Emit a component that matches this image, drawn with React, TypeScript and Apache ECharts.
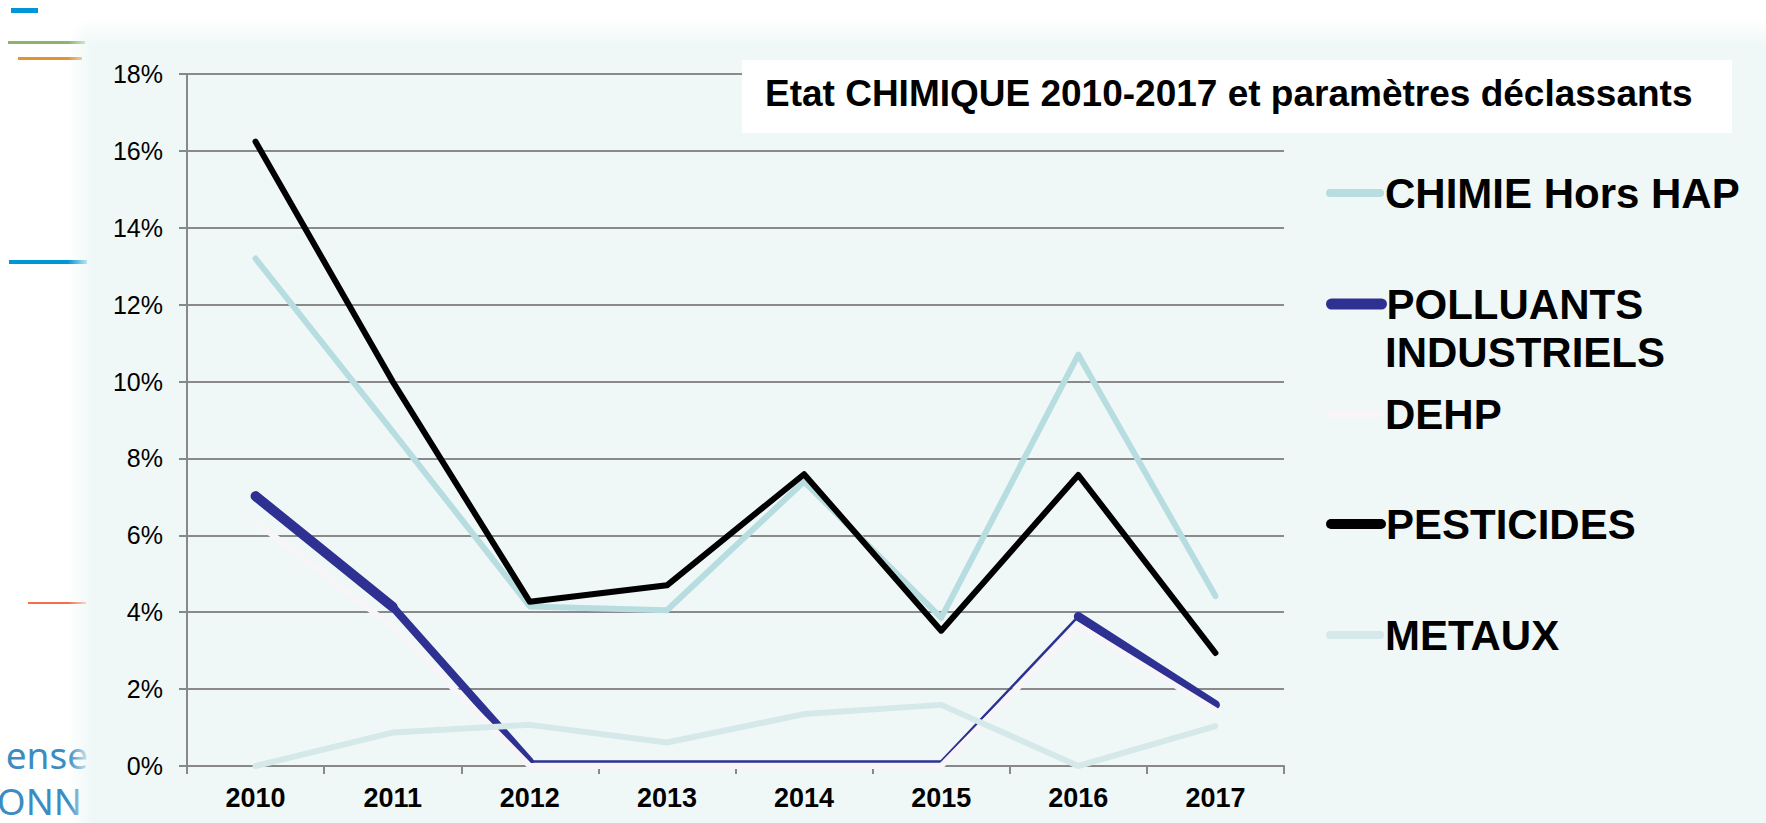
import React, { useEffect, useRef } from "react";
import * as echarts from "echarts";

// ---- data ----
const years = ["2010", "2011", "2012", "2013", "2014", "2015", "2016", "2017"];
const yTicks = [0, 2, 4, 6, 8, 10, 12, 14, 16, 18];
const chimieHorsHap = [13.2, 8.7, 4.15, 4.05, 7.4, 3.85, 10.7, 4.42];
const polluantsIndustriels = [7.02, 4.14, 0.12, 0.12, 0.12, 0.12, 3.89, 1.59];
const dehp = [6.35, 3.62, 0, 0, 0, 0, 3.65, 1.45];
const pesticides = [16.24, 10.0, 4.27, 4.7, 7.59, 3.52, 7.57, 2.94];
const metaux = [0, 0.87, 1.07, 0.61, 1.35, 1.59, 0, 1.04];
const seriesNames = ["CHIMIE Hors HAP", "POLLUANTS INDUSTRIELS", "DEHP", "PESTICIDES", "METAUX"];
const chartTitle = "Etat CHIMIQUE 2010-2017 et paramètres déclassants";

// ---- style ----
const FONT = "'Liberation Sans', Arial, sans-serif";
const MINT = "#eff8f7";
const COLORS = ["#b7dde0", "#2e3192", "#f8f5f8", "#000000", "#d5e9ea"];
// width of the polluants line per segment (segment i joins point i and i+1)
const polluantsSegmentWidths = [10, 8, 2.5, 2.5, 2.5, 2.5, 9];
const legendCenters = [193, 304, 414, 524, 635];
const legendIconWidths = [8, 11, 8, 10, 8];

function buildSegments(values: number[], widths: number[]) {
  const runs: { start: number; end: number; width: number }[] = [];
  widths.forEach((w, i) => {
    const last = runs[runs.length - 1];
    if (last && last.width === w) last.end = i + 1;
    else runs.push({ start: i, end: i + 1, width: w });
  });
  return runs.map((r) => ({
    width: r.width,
    data: values.map((v, i) => (i >= r.start && i <= r.end ? v : null)),
  }));
}

export default function App() {
  const ref = useRef<HTMLDivElement>(null);
  useEffect(() => {
    if (!ref.current) return;
    const chart = echarts.init(ref.current, undefined, { renderer: "svg" });

    const lineBase = (name: string, color: string, width: number, data: (number | null)[]) => ({
      type: "line",
      name,
      data,
      symbol: "none",
      showSymbol: false,
      connectNulls: false,
      lineStyle: { color, width, cap: "round", join: "round" },
      itemStyle: { color },
    });

    const polluantSeries = buildSegments(polluantsIndustriels, polluantsSegmentWidths).map((s) =>
      lineBase(seriesNames[1], COLORS[1], s.width, s.data)
    );

    const series: any[] = [
      lineBase(seriesNames[0], COLORS[0], 6, chimieHorsHap),
      ...polluantSeries,
      lineBase(seriesNames[2], COLORS[2], 6, dehp),
      lineBase(seriesNames[3], COLORS[3], 6, pesticides),
      lineBase(seriesNames[4], COLORS[4], 6, metaux),
    ];

    const legends = seriesNames.map((name, i) => ({
      data: [name],
      orient: "vertical",
      left: 1326,
      top: legendCenters[i] - 25,
      padding: 0,
      itemWidth: 50,
      itemHeight: 14,
      selectedMode: false,
      formatter: (n: string) => (n === "POLLUANTS INDUSTRIELS" ? "POLLUANTS" : n),
      itemStyle: { opacity: 0 },
      lineStyle: { width: legendIconWidths[i], cap: "round", color: COLORS[i] },
      textStyle: {
        fontFamily: FONT,
        fontSize: 42,
        fontWeight: "bold",
        color: "#000",
        lineHeight: 50,
      },
    }));

    const option: any = {
      animation: false,
      backgroundColor: "#ffffff",
      graphic: [
        // slide decorations (under the mint panel)
        { type: "rect", z: -20, shape: { x: 11, y: 8, width: 27, height: 5 }, style: { fill: "#0095d9" } },
        { type: "rect", z: -20, shape: { x: 8, y: 41, width: 77, height: 3 }, style: { fill: "#8fb26f" } },
        { type: "rect", z: -20, shape: { x: 18, y: 57, width: 64, height: 3 }, style: { fill: "#e3942f" } },
        { type: "rect", z: -20, shape: { x: 9, y: 260, width: 78, height: 4 }, style: { fill: "#0096d6" } },
        { type: "rect", z: -20, shape: { x: 28, y: 602, width: 58, height: 2 }, style: { fill: "#f36f47" } },
        {
          type: "text", z: -20, x: 88, y: 754,
          style: { text: "ense", fontFamily: "'Noto Sans', sans-serif", fontSize: 37, fill: "#3a8cc3", align: "right", verticalAlign: "middle" },
        },
        {
          type: "text", z: -20, x: 82, y: 800,
          style: { text: "DONN", fontFamily: "'Noto Sans', sans-serif", fontSize: 37, fill: "#3a8cc3", align: "right", verticalAlign: "middle" },
        },
        // mint panel
        { type: "rect", z: -10, shape: { x: 92, y: 45, width: 1674, height: 778 }, style: { fill: MINT } },
        {
          type: "rect", z: -10, shape: { x: 68, y: 45, width: 24, height: 778 },
          style: { fill: new echarts.graphic.LinearGradient(0, 0, 1, 0, [
            { offset: 0, color: "rgba(239,248,247,0)" }, { offset: 1, color: MINT }]) },
        },
        {
          type: "rect", z: -10, shape: { x: 92, y: 18, width: 1674, height: 27 },
          style: { fill: new echarts.graphic.LinearGradient(0, 0, 0, 1, [
            { offset: 0, color: "rgba(239,248,247,0)" }, { offset: 1, color: MINT }]) },
        },
        {
          type: "rect", z: -10, shape: { x: 68, y: 18, width: 24, height: 27 },
          style: { fill: new echarts.graphic.RadialGradient(1, 1, 1, [
            { offset: 0, color: MINT }, { offset: 1, color: "rgba(239,248,247,0)" }]) },
        },
        // title box
        { type: "rect", z: 10, shape: { x: 742, y: 60, width: 990, height: 73 }, style: { fill: "#ffffff" } },
        {
          type: "text", z: 11, x: 765, y: 93,
          style: { text: chartTitle, fontFamily: FONT, fontSize: 37, fontWeight: "bold", fill: "#000", verticalAlign: "middle" },
        },
        {
          type: "text", z: 11, x: 1385, y: 352,
          style: { text: "INDUSTRIELS", fontFamily: FONT, fontSize: 42, fontWeight: "bold", fill: "#000", verticalAlign: "middle" },
        },
      ],
      legend: legends,
      grid: { left: 187, right: 482, top: 74, bottom: 57, containLabel: false },
      xAxis: {
        type: "category",
        data: years,
        boundaryGap: true,
        axisLine: { show: true, lineStyle: { color: "#888888", width: 2 } },
        axisTick: { show: true, length: 8, alignWithLabel: false, lineStyle: { color: "#888888", width: 2 } },
        axisLabel: { margin: 18, fontFamily: FONT, fontSize: 27, fontWeight: "bold", color: "#000" },
        splitLine: { show: false },
      },
      yAxis: {
        type: "value",
        min: yTicks[0],
        max: yTicks[yTicks.length - 1],
        interval: yTicks[1] - yTicks[0],
        axisLine: { show: true, lineStyle: { color: "#888888", width: 2 } },
        axisTick: { show: true, length: 8, lineStyle: { color: "#888888", width: 2 } },
        axisLabel: { margin: 24, fontFamily: FONT, fontSize: 25, color: "#000", formatter: "{value}%" },
        splitLine: { show: true, lineStyle: { color: "#8a8a8a", width: 2 } },
      },
      series,
    };
    chart.setOption(option);
    return () => chart.dispose();
  }, []);

  return (
    <div
      ref={ref}
      style={{ position: "absolute", left: 0, top: 0, width: 1766, height: 823 }}
    />
  );
}
